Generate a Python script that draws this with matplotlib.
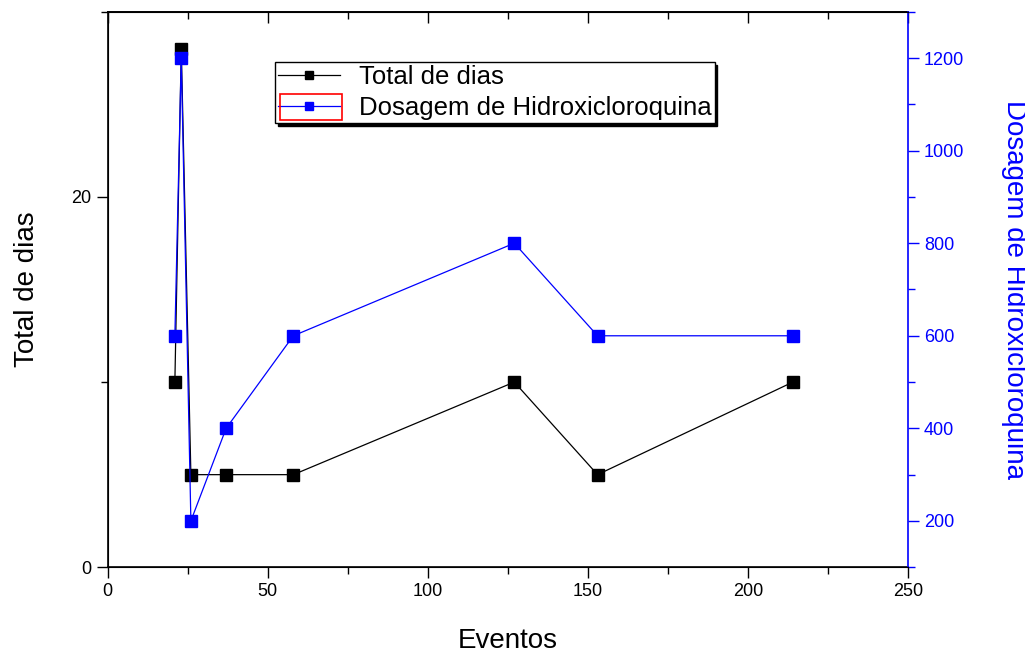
import numpy as np
import matplotlib.pyplot as plt
from matplotlib.ticker import MultipleLocator
from matplotlib.patches import Rectangle

plt.rcParams['font.family'] = ['Liberation Sans', 'DejaVu Sans']

eventos = [21, 23, 26, 37, 58, 127, 153, 214]
total_dias = [10, 28, 5, 5, 5, 10, 5, 10]
dosagem = [600, 1200, 200, 400, 600, 800, 600, 600]

azul = '#0000ff'

fig = plt.figure(figsize=(10.25, 6.52), dpi=100)
ax = fig.add_axes([0.105, 0.130, 0.781, 0.852])
ax2 = ax.twinx()

l1, = ax.plot(eventos, total_dias, '-s', color='black', lw=0.9, ms=9,
              label='Total de dias')
l2, = ax2.plot(eventos, dosagem, '-s', color=azul, mec=azul, lw=0.9, ms=9,
               label='Dosagem de Hidroxicloroquina')

ax.set_xlim(0, 250)
ax.set_ylim(0, 30)
ax2.set_ylim(100, 1300)

ax.xaxis.set_major_locator(MultipleLocator(50))
ax.xaxis.set_minor_locator(MultipleLocator(25))
ax.yaxis.set_major_locator(MultipleLocator(20))
ax.yaxis.set_minor_locator(MultipleLocator(10))
ax2.yaxis.set_major_locator(MultipleLocator(200))
ax2.yaxis.set_minor_locator(MultipleLocator(100))

ax.tick_params(axis='x', which='both', direction='out', labelsize=13)
ax.tick_params(axis='y', which='both', direction='out', labelsize=13)
ax.tick_params(which='major', length=8, width=1)
ax.tick_params(which='minor', length=5, width=1)

# inward ticks on top spine
sec = ax.secondary_xaxis('top')
sec.xaxis.set_major_locator(MultipleLocator(50))
sec.xaxis.set_minor_locator(MultipleLocator(25))
sec.tick_params(which='major', direction='in', length=8, width=1, labeltop=False)
sec.tick_params(which='minor', direction='in', length=5, width=1)
sec.spines['top'].set_linewidth(1.2)

ax2.tick_params(axis='y', which='both', direction='out', colors=azul, labelsize=13, width=1)
ax2.tick_params(which='major', length=8)
ax2.tick_params(which='minor', length=5)

ax2.spines['right'].set_color(azul)
for s in ['left', 'bottom', 'top']:
    ax.spines[s].set_linewidth(1.2)
ax2.spines['right'].set_linewidth(1.2)
ax.spines['right'].set_visible(False)

ax.set_xlabel('Eventos', fontsize=20, labelpad=20)
ax.set_ylabel('Total de dias', fontsize=20, labelpad=23)
ax2.set_ylabel('Dosagem de Hidroxicloroquina', fontsize=20, color=azul,
               rotation=270, labelpad=45)

leg = ax2.legend([l1, l2], [l1.get_label(), l2.get_label()],
                 loc='upper left', bbox_to_anchor=(0.209, 0.909),
                 fontsize=18.5, fancybox=False, edgecolor='black', framealpha=1,
                 handlelength=2.4, handletextpad=0.75, borderpad=0.12,
                 labelspacing=0.25, borderaxespad=0, markerscale=0.7,
                 shadow={'color': 'black', 'alpha': 1})
leg.get_frame().set_linewidth(1)

# red selection box around second legend handle
fig.patches.append(Rectangle((0.2732, 0.816), 0.0600, 0.040,
                             transform=fig.transFigure, fill=False,
                             edgecolor='red', lw=1.2, zorder=10))

plt.savefig('out.png', dpi=100)
